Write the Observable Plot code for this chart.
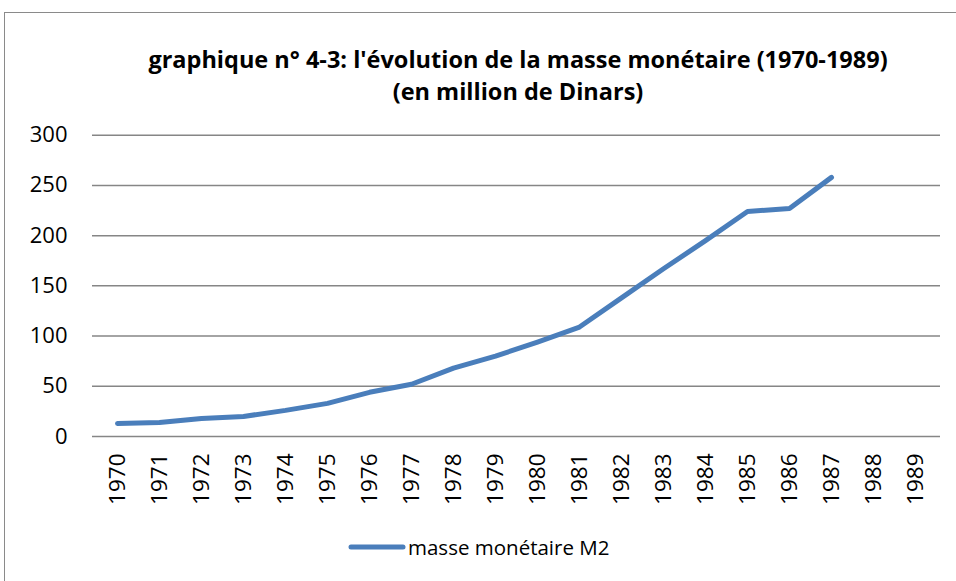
<!DOCTYPE html>
<html>
<head>
<meta charset="utf-8">
<script src="https://cdn.jsdelivr.net/npm/d3@7"></script>
<script src="https://cdn.jsdelivr.net/npm/@observablehq/plot@0.6"></script>
<style>
  html, body { margin: 0; padding: 0; background: #fff; }
  #wrap { position: relative; width: 956px; height: 581px; overflow: hidden; background: #fff; font-family: "Open Sans", sans-serif; }
  #frame { position: absolute; left: 4px; top: 12px; width: 1100px; height: 800px; border: 1.5px solid #8a8a8a; box-sizing: border-box; }
  #title { position: absolute; left: 100px; width: 836px; top: 43px; text-align: center; font-weight: bold; font-size: 23.5px; line-height: 32px; color: #000; white-space: nowrap; }
  #chart { position: absolute; left: 0; top: 100px; }
  #legend { position: absolute; top: 533px; left: 348px; display: flex; align-items: center; font-size: 20.5px; color: #000; white-space: nowrap; }
  #legend svg { display: block; margin-right: 2px; }
  #chart svg text { fill: #000; }
</style>
</head>
<body>
<div id="wrap">
  <div id="frame"></div>
  <div id="title">graphique n° 4-3: l'évolution de la masse monétaire (1970-1989)<br>(en million de Dinars)</div>
  <div id="chart"></div>
  <div id="legend"></div>
</div>
<script>
const years = ["1970","1971","1972","1973","1974","1975","1976","1977","1978","1979","1980","1981","1982","1983","1984","1985","1986","1987","1988","1989"];
const m2 = [13, 14, 18, 20, 26, 33, 44, 52, 68, 80, 94, 109, 138, 167, 195, 224, 227, 258, null, null];
const yTicks = [0, 50, 100, 150, 200, 250, 300];
const seriesName = "masse monétaire M2";
const lineColor = "#4A7EBB";

const data = years.map((y, i) => ({year: y, value: m2[i]}));

const chart = Plot.plot({
  width: 956,
  height: 420,
  marginTop: 34.7,
  marginBottom: 84,
  marginLeft: 92,
  marginRight: 16,
  style: {fontFamily: "'Open Sans', sans-serif", background: "transparent", overflow: "visible"},
  x: {type: "point", domain: years, padding: 0.5},
  y: {domain: [0, 300]},
  marks: [
    Plot.gridY(yTicks, {stroke: "#868686", strokeOpacity: 1, strokeWidth: 1.5}),
    Plot.axisY(yTicks, {tickSize: 0, tickPadding: 25, fontSize: 22, tickFormat: d => String(d), label: null}),
    Plot.axisX(years, {tickSize: 0, tickPadding: 17, tickRotate: -90, fontSize: 22.5, label: null}),
    Plot.line(data, {x: "year", y: "value", stroke: lineColor, strokeWidth: 5, strokeLinecap: "round", strokeLinejoin: "round"})
  ]
});
document.getElementById("chart").appendChild(chart);

const leg = document.getElementById("legend");
leg.innerHTML = `<svg width="58" height="10"><line x1="3" y1="5" x2="55" y2="5" stroke="${lineColor}" stroke-width="5" stroke-linecap="round"/></svg><span>${seriesName}</span>`;
</script>
</body>
</html>
